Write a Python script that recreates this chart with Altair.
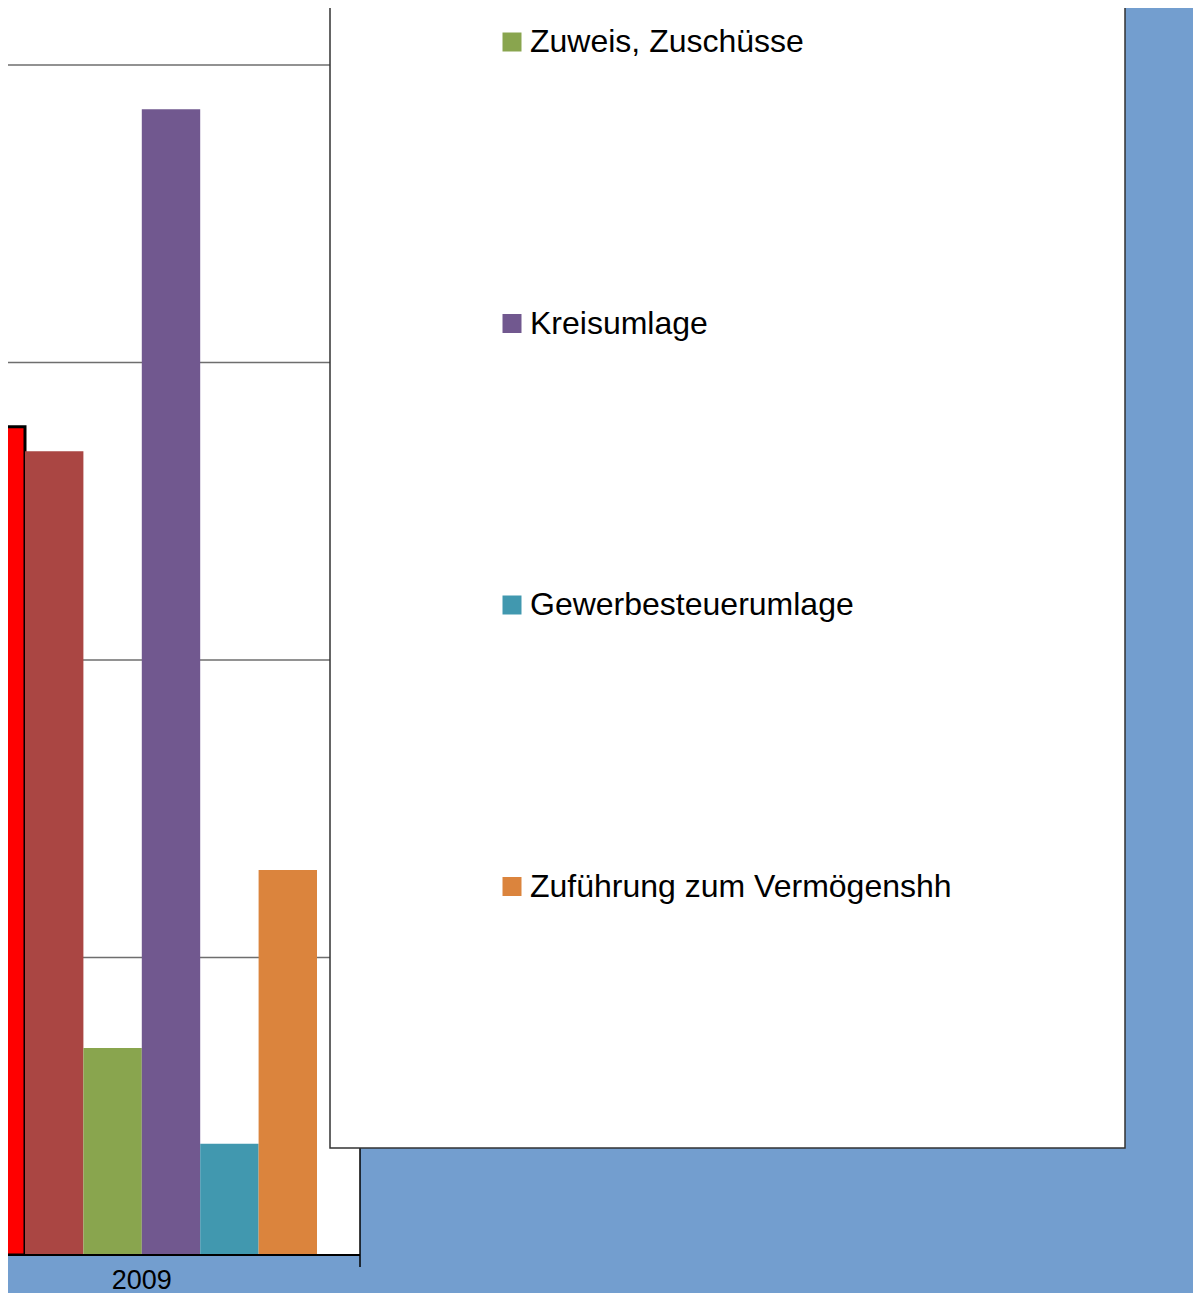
import altair as alt
import pandas as pd

# ---- data ----
year = ["2009"]
series = ["Steuern", "Personalausgaben", "Zuweis, Zuschüsse", "Kreisumlage",
          "Gewerbesteuerumlage", "Zuführung zum Vermögenshh"]
values = [1392, 1351, 348, 1926, 187, 647]
colors = ["#FF0000", "#AA4643", "#89A54E", "#71588F", "#4198AF", "#DB843D"]
grid_values = [500, 1000, 1500, 2000]
legend_labels = series[2:]
legend_rank = [2, 3, 4, 5]

FONT = "Liberation Sans"
BLUE = "#739ECF"

bars_df = pd.DataFrame({"year": year * len(series), "series": series, "amount": values})
grid_df = pd.DataFrame({"value": grid_values})
legend_df = pd.DataFrame({"series": legend_labels, "rank": legend_rank})

yscale = alt.Scale(domain=[0, 2096], nice=False, zero=True)
cscale = alt.Scale(domain=series, range=colors)
blank = alt.Data(values=[{}])

plot_bg = alt.Chart(blank).mark_rect(fill="white").encode(
    x=alt.value(0), x2=alt.value(352), y=alt.value(-10), y2=alt.value(1247))

grid = alt.Chart(grid_df).mark_rule(color="#6e6e6e", strokeWidth=1.5).encode(
    y=alt.Y("value:Q", scale=yscale, axis=None),
    x=alt.value(0), x2=alt.value(352))

bars = alt.Chart(bars_df).mark_bar(clip=True, stroke="black").encode(
    x=alt.X("year:N", scale=alt.Scale(domain=year, range=[-41.4, 309], paddingInner=0, paddingOuter=0),
            axis=alt.Axis(title=None, domain=False, ticks=False, labelFont=FONT, labelFontSize=27,
                          labelColor="black", labelPadding=12, labelAngle=0, labelBaseline="top")),
    xOffset=alt.XOffset("series:N", sort=series,
                        scale=alt.Scale(domain=series, paddingInner=0, paddingOuter=0)),
    y=alt.Y("amount:Q", scale=yscale, axis=None),
    color=alt.Color("series:N", scale=cscale, legend=None),
    strokeWidth=alt.condition(alt.datum.series == series[0], alt.value(3), alt.value(0)),
)

baseline = alt.Chart(blank).mark_rule(color="black", strokeWidth=2).encode(
    x=alt.value(0), x2=alt.value(352), y=alt.value(1247))

right_border = alt.Chart(blank).mark_rule(color="black", strokeWidth=1.5).encode(
    x=alt.value(352), y=alt.value(0), y2=alt.value(1259))

legend_box = alt.Chart(blank).mark_rect(fill="white", stroke="#333333", strokeWidth=1.5).encode(
    x=alt.value(322), x2=alt.value(1117), y=alt.value(-10), y2=alt.value(1140))

lscale = alt.Scale(domain=[2, 5], range=[34, 878.5], nice=False, zero=False)

legend_sq = alt.Chart(legend_df).mark_square(size=361, opacity=1).encode(
    x=alt.value(504),
    y=alt.Y("rank:Q", scale=lscale, axis=None),
    color=alt.Color("series:N", scale=cscale, legend=None))

legend_txt = alt.Chart(legend_df).mark_text(
    align="left", baseline="middle", font=FONT, fontSize=32, color="black").encode(
    x=alt.value(522),
    y=alt.Y("rank:Q", scale=lscale, axis=None),
    text="series:N")

chart = alt.layer(
    plot_bg, grid, bars, baseline, right_border, legend_box, legend_sq, legend_txt
).resolve_scale(y="independent").properties(
    width=1185, height=1247,
    autosize=alt.AutoSizeParams(type="none"),
    padding={"left": 0, "top": 0, "right": 0, "bottom": 38},
    background=BLUE,
).configure_view(stroke=None)

chart.save("out.html", embed_options={"renderer": "svg", "actions": False})
